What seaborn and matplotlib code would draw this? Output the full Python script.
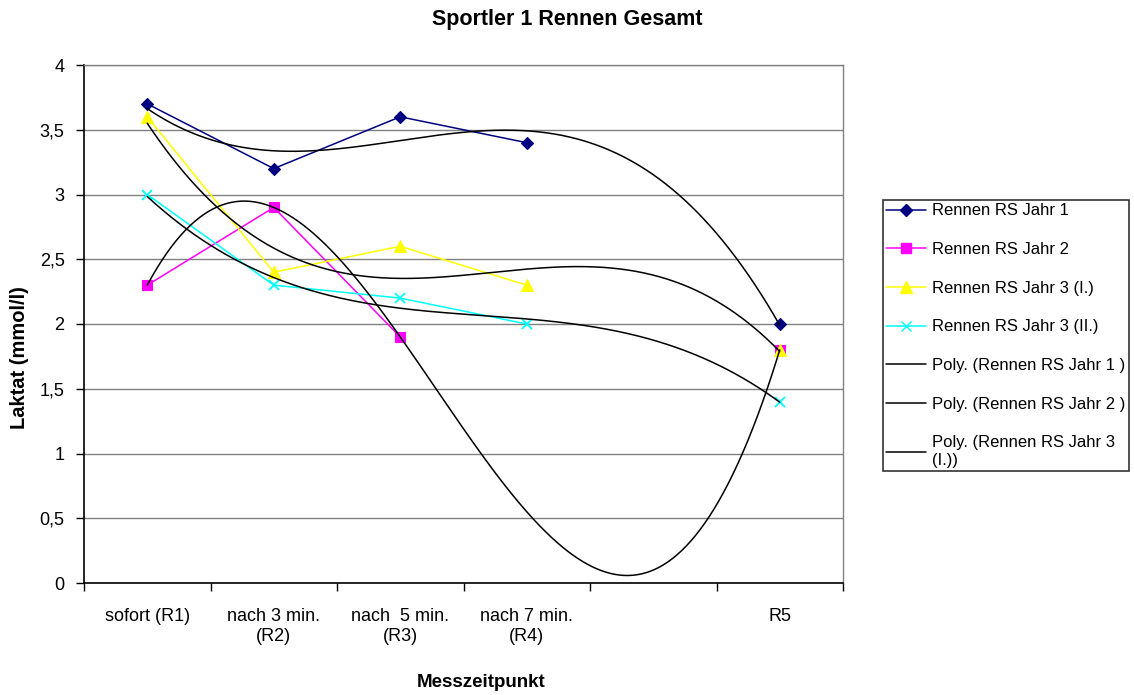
import numpy as np
import pandas as pd
import matplotlib
matplotlib.use("Agg")
import matplotlib.pyplot as plt
import seaborn as sns
from matplotlib.lines import Line2D

# Measurement points (the fifth slot is an unlabeled gap before R5)
categories = ["sofort (R1)", "nach 3 min.\n(R2)", "nach  5 min.\n(R3)",
              "nach 7 min.\n(R4)", "", "R5"]

# Lactate values in mmol/l, NaN where no measurement was taken
jahr1 = [3.7, 3.2, 3.6, 3.4, np.nan, 2.0]
jahr2 = [2.3, 2.9, 1.9, np.nan, np.nan, 1.8]
jahr3_i = [3.6, 2.4, 2.6, 2.3, np.nan, 1.8]
jahr3_ii = [3.0, 2.3, 2.2, 2.0, np.nan, 1.4]

series_names = ["Rennen RS Jahr 1", "Rennen RS Jahr 2",
                "Rennen RS Jahr 3 (I.)", "Rennen RS Jahr 3 (II.)"]
series_values = [jahr1, jahr2, jahr3_i, jahr3_ii]
series_colors = ["#000080", "#FF00FF", "#FFFF00", "#00FFFF"]
series_markers = ["D", "s", "^", "x"]
series_msize = [6, 7, 8, 7]
trend_order = 3

sns.set_theme(style="white")
plt.rcParams["font.family"] = ["Liberation Sans", "DejaVu Sans"]
plt.rcParams["text.color"] = "black"
plt.rcParams["axes.labelcolor"] = "black"
plt.rcParams["xtick.color"] = "black"
plt.rcParams["ytick.color"] = "black"

fig = plt.figure(figsize=(11.34, 6.95), dpi=100)
ax = fig.add_axes([84 / 1134, 1 - 583 / 695, (843 - 84) / 1134, (583 - 65) / 695])

x_pos = np.arange(1, len(categories) + 1)

# Series lines: break at missing values
for name, vals, col, mk, ms in zip(series_names, series_values, series_colors,
                                   series_markers, series_msize):
    df = pd.DataFrame({"x": x_pos, "y": vals})
    df["run"] = df["y"].isna().cumsum()
    df = df.dropna()
    for _, run in df.groupby("run"):
        sns.lineplot(data=run, x="x", y="y", ax=ax, color=col, linewidth=1.1,
                     marker=mk, markersize=ms, markeredgecolor=col,
                     markeredgewidth=1.3 if mk == "x" else 0.8,
                     zorder=3, legend=False, sort=False)

# Polynomial trendlines (order 3) fitted to the available points
xs = np.linspace(1, len(categories), 400)
for vals in series_values:
    v = np.asarray(vals, dtype=float)
    m = ~np.isnan(v)
    coef = np.polyfit(x_pos[m], v[m], trend_order)
    tdf = pd.DataFrame({"x": xs, "y": np.polyval(coef, xs)})
    sns.lineplot(data=tdf, x="x", y="y", ax=ax, color="black", linewidth=1.1,
                 zorder=4, legend=False)

# Axes styling
ax.set_xlim(0.5, len(categories) + 0.5)
ax.set_ylim(0, 4)
yt = np.arange(0, 4.01, 0.5)
ax.set_yticks(yt)
ax.set_yticklabels([f"{t:g}".replace(".", ",") for t in yt])
ax.set_xticks(np.arange(0.5, len(categories) + 1, 1.0))
ax.set_xticklabels([])
ax.set_xticks(x_pos, minor=True)
ax.set_xticklabels(categories, minor=True, linespacing=1.25)
ax.tick_params(axis="x", which="major", length=6, width=1, color="black",
               direction="out", bottom=True)
ax.tick_params(axis="x", which="minor", length=0, pad=18, labelsize=13)
ax.tick_params(axis="y", length=6, width=1, color="black", direction="out",
               left=True, labelsize=13, pad=8)
ax.grid(axis="y", color="#808080", linewidth=1)
ax.set_axisbelow(True)
for side in ["left", "bottom"]:
    ax.spines[side].set_color("black")
    ax.spines[side].set_linewidth(1.2)
for side in ["top", "right"]:
    ax.spines[side].set_color("#808080")
    ax.spines[side].set_linewidth(1)

ax.set_xlabel("Messzeitpunkt", fontsize=13.5, fontweight="bold")
ax.xaxis.set_label_coords(0.523, -0.176)
ax.set_ylabel("Laktat (mmol/l)", fontsize=14.5, fontweight="bold")
ax.yaxis.set_label_coords(-0.073, 0.435)
fig.text(0.5, 1 - 20 / 695, "Sportler 1 Rennen Gesamt", ha="center",
         va="center", fontsize=15.5, fontweight="bold")

# Legend (the fourth trendline entry does not fit in the box)
handles = []
labels = []
for name, col, mk, ms in zip(series_names, series_colors, series_markers, series_msize):
    handles.append(Line2D([], [], color=col, marker=mk, markersize=ms,
                          markeredgecolor=col, linewidth=1.1))
    labels.append(name)
for lab in ["Poly. (Rennen RS Jahr 1 )", "Poly. (Rennen RS Jahr 2 )",
            "Poly. (Rennen RS Jahr 3\n(I.))"]:
    handles.append(Line2D([], [], color="black", linewidth=1.1))
    labels.append(lab)
leg = fig.legend(handles, labels, loc="upper left",
                 bbox_to_anchor=(883 / 1134, 1 - 200 / 695),
                 frameon=True, fancybox=False, edgecolor="black",
                 fontsize=12, handlelength=2.4, handletextpad=0.35,
                 labelspacing=1.42, borderpad=0.2, borderaxespad=0)
leg.get_frame().set_linewidth(1.2)

fig.savefig("out.png", dpi=100)
